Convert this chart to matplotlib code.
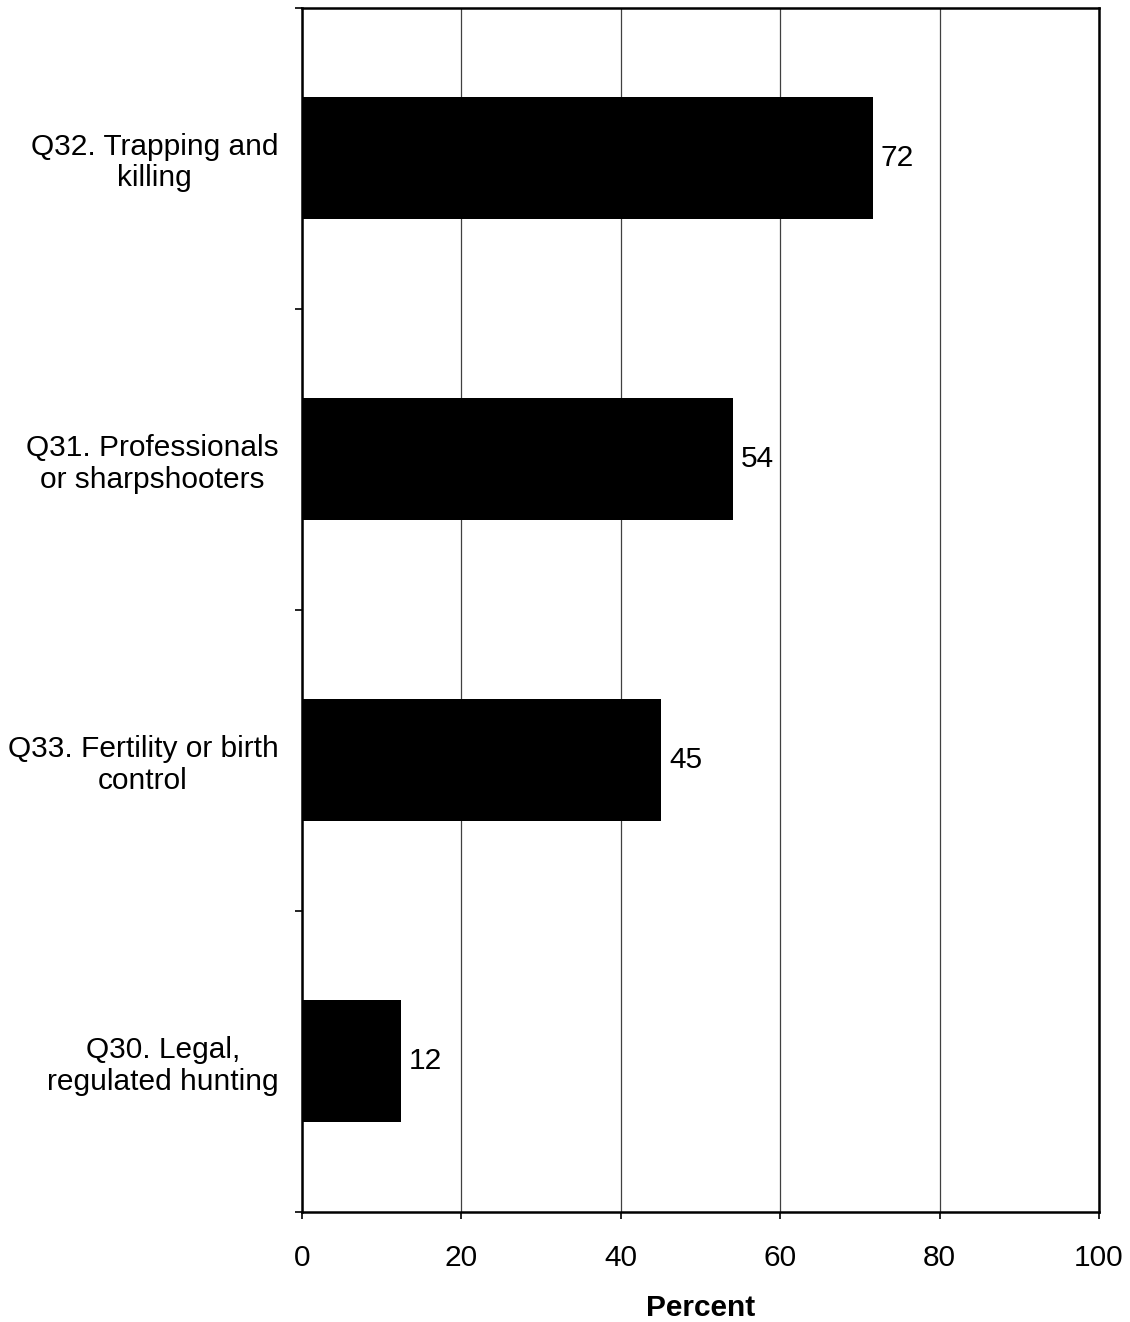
import matplotlib
matplotlib.use("Agg")
import matplotlib.pyplot as plt
import numpy as np

categories = ["Q30. Legal,\nregulated hunting",
              "Q33. Fertility or birth\ncontrol",
              "Q31. Professionals\nor sharpshooters",
              "Q32. Trapping and\nkilling"]
values = [12.4, 45.1, 54.1, 71.6]
value_labels = ["12", "45", "54", "72"]
x_ticks = [0, 20, 40, 60, 80, 100]

plt.rcParams['font.family'] = ['Liberation Sans', 'DejaVu Sans']
FS = 21.5

fig = plt.figure(figsize=(11.3, 13.22), dpi=100)
ax = fig.add_axes([0.2673, 0.0832, 0.9726 - 0.2673, 0.9943 - 0.0832])

y = np.arange(len(categories))
ax.barh(y, values, height=0.405, color='black', zorder=3)
for yi, v, lab in zip(y, values, value_labels):
    ax.text(v + 1.0, yi, lab, va='center', ha='left', fontsize=FS)

ax.set_xlim(0, 100)
ax.set_ylim(-0.5, len(categories) - 0.5)
ax.set_xticks(x_ticks)
ax.set_xticklabels([str(t) for t in x_ticks], fontsize=FS)
ax.tick_params(axis='x', direction='out', length=5, width=1.2, pad=18)

ax.set_yticks(y)
ax.set_yticklabels(categories, fontsize=FS, multialignment='center', linespacing=1.15)
ax.tick_params(axis='y', which='major', length=0, pad=17)
ax.set_yticks(np.arange(-0.5, len(categories)), minor=True)
ax.tick_params(axis='y', which='minor', direction='out', length=5, width=1.2)

ax.grid(axis='x', color='#404040', linewidth=0.9, zorder=0)
ax.set_axisbelow(True)
for s in ax.spines.values():
    s.set_linewidth(1.8)
    s.set_color('black')

ax.set_xlabel("Percent", fontsize=FS, fontweight='bold', labelpad=16)

fig.savefig("out.png", dpi=100)
